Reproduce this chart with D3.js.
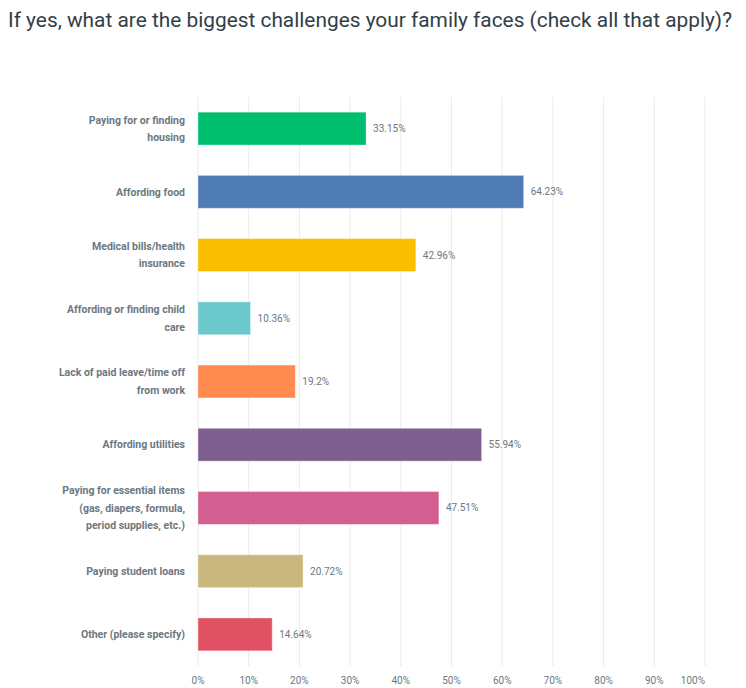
<!DOCTYPE html>
<html><head><meta charset="utf-8">
<script src="https://cdn.jsdelivr.net/npm/d3@7"></script>
<style>
body{margin:0;background:#fff;}
svg{display:block;}
</style></head>
<body>
<svg id="c" width="746" height="688"></svg>
<script>
const categories = [
  ["Paying for or finding","housing"],
  ["Affording food"],
  ["Medical bills/health","insurance"],
  ["Affording or finding child","care"],
  ["Lack of paid leave/time off","from work"],
  ["Affording utilities"],
  ["Paying for essential items","(gas, diapers, formula,","period supplies, etc.)"],
  ["Paying student loans"],
  ["Other (please specify)"]
];
const values = [33.15, 64.23, 42.96, 10.36, 19.2, 55.94, 47.51, 20.72, 14.64];
const valueLabels = ["33.15%","64.23%","42.96%","10.36%","19.2%","55.94%","47.51%","20.72%","14.64%"];
const colors = ["#00bf6f","#507cb6","#f9be00","#6bc8cd","#ff8b4f","#7f5f90","#d25f90","#c9b77d","#e05263"];
const ticks = [0,10,20,30,40,50,60,70,80,90,100];
const title = "If yes, what are the biggest challenges your family faces (check all that apply)?";

const svg = d3.select("#c");
const font = "Roboto, 'Open Sans', sans-serif";
const labelColor = "#6b787f";

const x = d3.scaleLinear().domain([0,100]).range([198,705]);
const y = d3.scaleBand().domain(d3.range(categories.length)).range([97,666]).paddingInner(0.48).paddingOuter(0.24);

// title
const t = svg.append("text").attr("x",8).attr("y",27)
  .attr("font-family",font).attr("font-size",20).attr("fill","#333e48")
  .text(title);
const tw = t.node().getComputedTextLength();
t.attr("textLength",724).attr("lengthAdjust","spacingAndGlyphs");

// gridlines
svg.append("g").selectAll("line").data(ticks).join("line")
  .attr("x1",d=>x(d)).attr("x2",d=>x(d))
  .attr("y1",97).attr("y2",666)
  .attr("stroke","#ebebeb").attr("stroke-width",1);

// bars
svg.append("g").selectAll("rect").data(values).join("rect")
  .attr("x",x(0)).attr("y",(d,i)=>y(i))
  .attr("width",d=>x(d)-x(0)).attr("height",y.bandwidth())
  .attr("fill",(d,i)=>colors[i])
  .attr("stroke","rgba(255,255,255,0.35)").attr("stroke-width",1);

// value labels
svg.append("g").selectAll("text").data(values).join("text")
  .attr("x",d=>x(d)+7).attr("y",(d,i)=>y(i)+y.bandwidth()/2)
  .attr("dy","0.35em")
  .attr("font-family",font).attr("font-size",10).attr("fill",labelColor)
  .text((d,i)=>valueLabels[i]);

// category labels
const lh = 17.5;
const cl = svg.append("g").selectAll("text").data(categories).join("text")
  .attr("text-anchor","end")
  .attr("font-family",font).attr("font-size",10.5).attr("font-weight","bold").attr("fill",labelColor);
cl.each(function(lines,i){
  const c = y(i)+y.bandwidth()/2;
  const start = c - (lines.length-1)*lh/2;
  d3.select(this).selectAll("tspan").data(lines).join("tspan")
    .attr("x",185).attr("y",(d,j)=>start+j*lh).attr("dy","0.35em").text(d=>d);
});

// x axis tick labels
svg.append("g").selectAll("text").data(ticks).join("text")
  .attr("x",d=>d===100?x(d):x(d)).attr("y",684)
  .attr("text-anchor",d=>d===100?"end":"middle")
  .attr("font-family",font).attr("font-size",10).attr("fill",labelColor)
  .text(d=>d+"%");
</script>
</body></html>
